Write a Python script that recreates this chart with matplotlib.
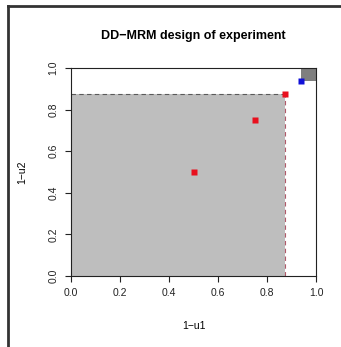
import matplotlib.pyplot as plt
from matplotlib.patches import Rectangle
from matplotlib.lines import Line2D

# design points and regions
red_x = [0.5, 0.75, 0.875]
red_y = [0.5, 0.75, 0.875]
blue_x = [0.9375]
blue_y = [0.9375]
region_light = (0.0, 0.0, 0.875, 0.875)
region_dark = (0.9375, 0.9375, 0.0625, 0.0625)
ticks = [0.0, 0.2, 0.4, 0.6, 0.8, 1.0]
tick_labels = ["0.0", "0.2", "0.4", "0.6", "0.8", "1.0"]

plt.rcParams['font.family'] = ['Liberation Sans', 'DejaVu Sans']

fig = plt.figure(figsize=(3.41, 3.47), dpi=100)
ax = fig.add_axes([71 / 341, 1 - 276 / 347, 245 / 341, 208 / 347])

x0, y0, w, h = region_light
ax.add_patch(Rectangle((x0, y0), w, h, facecolor="#bebebe", edgecolor="none"))
ax.plot([x0, x0 + w], [y0 + h, y0 + h], color="#5a5a5a", lw=0.8, ls=(0, (4, 3)))
ax.plot([x0 + w, x0 + w], [y0, y0 + h], color="#b05a6a", lw=0.8, ls=(0, (4, 3)))
x0, y0, w, h = region_dark
ax.add_patch(Rectangle((x0, y0), w, h, facecolor="#7f7f7f", edgecolor="none"))

ax.plot(red_x, red_y, "s", color="#e8101e", ms=3.8, mec="none")
ax.plot(blue_x, blue_y, "s", color="#1010d8", ms=3.8, mec="none")

ax.set_xlim(0, 1)
ax.set_ylim(0, 1)
ax.set_xticks(ticks)
ax.set_xticklabels(tick_labels)
ax.set_yticks(ticks)
ax.set_yticklabels(tick_labels, rotation=90, va="center")
ax.tick_params(length=4, width=0.8, labelsize=7.5, pad=5, colors="#222222")
for s in ax.spines.values():
    s.set_linewidth(0.8)
    s.set_color("#222222")

ax.set_xlabel("1\u2212u1", fontsize=7.5, labelpad=16)
ax.set_ylabel("1\u2212u2", fontsize=7.5, labelpad=15)
ax.set_title("DD\u2212MRM design of experiment", fontsize=9, fontweight="bold", pad=21)

# outer frame (left and top edges)
fig.add_artist(Line2D([8 / 341, 8 / 341], [0, 1 - 6 / 347], color="#333333", lw=2))
fig.add_artist(Line2D([8 / 341, 1], [1 - 6 / 347, 1 - 6 / 347], color="#333333", lw=2))

fig.savefig("out.png", dpi=100)
